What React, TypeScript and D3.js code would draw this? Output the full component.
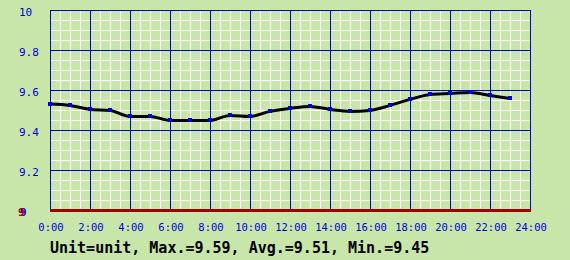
import React from "react";
import * as d3 from "d3";

const hours = [0, 1, 2, 3, 4, 5, 6, 7, 8, 9, 10, 11, 12, 13, 14, 15, 16, 17, 18, 19, 20, 21, 22, 23];
const values = [9.53, 9.523, 9.503, 9.498, 9.468, 9.468, 9.448, 9.448, 9.448, 9.473, 9.468, 9.493, 9.508, 9.518, 9.503, 9.493, 9.498, 9.523, 9.553, 9.578, 9.583, 9.588, 9.573, 9.558];
const xTickLabels = ["0:00", "2:00", "4:00", "6:00", "8:00", "10:00", "12:00", "14:00", "16:00", "18:00", "20:00", "22:00", "24:00"];
const yTicks = [9.2, 9.4, 9.6, 9.8, 10];
const summary = "Unit=unit, Max.=9.59, Avg.=9.51, Min.=9.45";

const W = 570;
const H = 260;
const L = 50, R = 530, T = 10, B = 210;

export default function App() {
  const x = d3.scaleLinear().domain([0, 24]).range([L, R]);
  const y = d3.scaleLinear().domain([9, 10]).range([B, T]);
  const minorX = d3.range(0, 24.01, 0.5);
  const minorY = d3.range(9, 10.001, 0.05);
  const majorX = d3.range(0, 24.01, 2);
  const majorY = d3.range(9, 10.001, 0.2);
  const line = d3
    .line<number>()
    .x((_, i) => x(hours[i]))
    .y((d) => y(d))
    .curve(d3.curveMonotoneX);
  const mono = "'DejaVu Sans Mono', 'Liberation Mono', monospace";
  return (
    <svg width={W} height={H} style={{ position: "fixed", left: 0, top: 0 }}>
      <rect x={0} y={0} width={W} height={H} fill="#c8e6a9" />
      <g shapeRendering="crispEdges">
        {minorX.map((h, i) => (
          <line key={"mx" + i} x1={x(h) + 0.5} x2={x(h) + 0.5} y1={T} y2={B} stroke="#ffffff" strokeWidth={1} />
        ))}
        {minorY.map((v, i) => (
          <line key={"my" + i} x1={L} x2={R} y1={Math.round(y(v)) + 0.5} y2={Math.round(y(v)) + 0.5} stroke="#ffffff" strokeWidth={1} />
        ))}
        {majorX.map((h, i) => (
          <line key={"Mx" + i} x1={x(h) + 0.5} x2={x(h) + 0.5} y1={T} y2={B} stroke="#0000e0" strokeWidth={1} />
        ))}
        {majorY.map((v, i) => (
          <line key={"My" + i} x1={L} x2={R + 1} y1={Math.round(y(v)) + 0.5} y2={Math.round(y(v)) + 0.5} stroke="#0000e0" strokeWidth={1} />
        ))}
        <rect x={L} y={B - 1} width={R - L + 1} height={3} fill="#a00000" />
      </g>
      <path d={line(values) || ""} fill="none" stroke="#000000" strokeWidth={3} />
      {values.map((v, i) => (
        <rect key={"p" + i} x={x(hours[i]) - 2} y={y(v) - 2} width={4} height={4} fill="#0000e8" shapeRendering="crispEdges" />
      ))}
      {yTicks.map((v, i) => (
        <text key={"yt" + i} x={19} y={y(v) + 6} fontFamily={mono} fontSize={11} fill="#0000e0">
          {String(v)}
        </text>
      ))}
      <text
        x={18}
        y={B + 6}
        fontFamily={mono}
        fontSize={11}
        fontWeight="bold"
        fill="#b00000"
        style={{ textShadow: "2px 0 0 #0000e0" }}
      >
        9
      </text>
      {xTickLabels.map((t, i) => (
        <text key={"xt" + i} x={x(i * 2) + 1} y={231} fontFamily={mono} fontSize={10.5} fill="#0000e0" textAnchor="middle">
          {t}
        </text>
      ))}
      <text x={50} y={253} fontFamily={mono} fontSize={15} fontWeight="bold" fill="#000000">
        {summary}
      </text>
    </svg>
  );
}
